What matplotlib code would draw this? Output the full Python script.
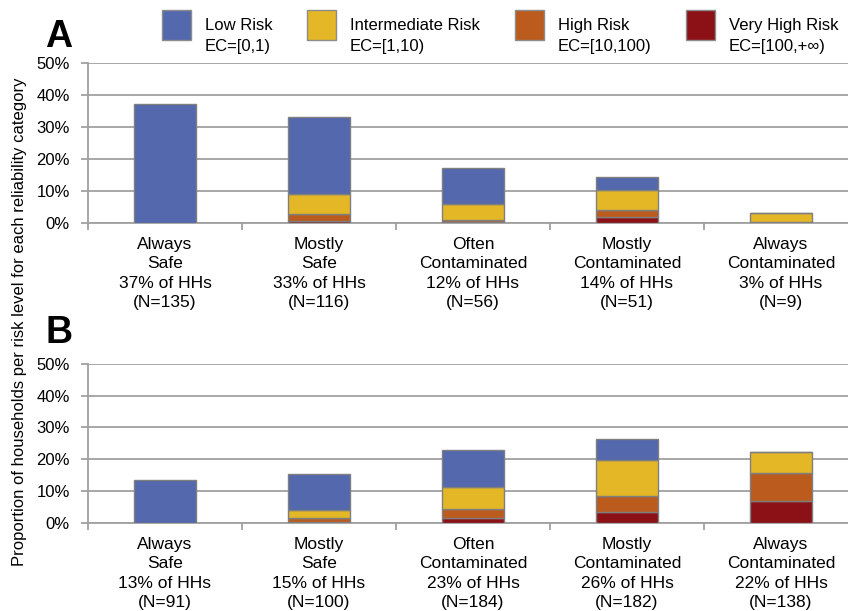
import numpy as np
import matplotlib
matplotlib.use("Agg")
import matplotlib.pyplot as plt
from matplotlib.patches import Rectangle

plt.rcParams['font.family'] = ['Liberation Sans', 'DejaVu Sans']

# data (percent of households)
labels_A = ["Always\nSafe\n37% of HHs\n(N=135)",
            "Mostly\nSafe\n33% of HHs\n(N=116)",
            "Often\nContaminated\n12% of HHs\n(N=56)",
            "Mostly\nContaminated\n14% of HHs\n(N=51)",
            "Always\nContaminated\n3% of HHs\n(N=9)"]
labels_B = ["Always\nSafe\n13% of HHs\n(N=91)",
            "Mostly\nSafe\n15% of HHs\n(N=100)",
            "Often\nContaminated\n23% of HHs\n(N=184)",
            "Mostly\nContaminated\n26% of HHs\n(N=182)",
            "Always\nContaminated\n22% of HHs\n(N=138)"]

veryhigh_A = [0.0, 0.6, 0.3, 1.9, 0.3]
high_A = [0.0, 2.0, 0.6, 2.0, 0.0]
inter_A = [0.0, 6.4, 5.0, 6.4, 2.7]
low_A = [37.3, 24.0, 11.3, 4.0, 0.0]

veryhigh_B = [0.0, 0.2, 1.6, 3.3, 6.9]
high_B = [0.0, 1.3, 2.7, 5.0, 8.7]
inter_B = [0.0, 2.4, 7.0, 11.5, 6.6]
low_B = [13.5, 11.4, 11.6, 6.6, 0.0]

risk_names = ["Low Risk\nEC=[0,1)", "Intermediate Risk\nEC=[1,10)",
              "High Risk\nEC=[10,100)", "Very High Risk\nEC=[100,+\u221e)"]
colors = ['#5468ad', '#e4b726', '#bb5c1e', '#8c1116']

W, H = 848, 611
fig = plt.figure(figsize=(W/100, H/100), dpi=100)

def panel(rect, low, inter, high, vhigh, labels):
    ax = fig.add_axes(rect)
    x = np.arange(len(labels))
    # stacked from the bottom: very high, high, intermediate, low
    segs = [vhigh, high, inter, low]
    cols = [colors[3], colors[2], colors[1], colors[0]]
    bottom = np.zeros(len(labels))
    for vals, c in zip(segs, cols):
        vals = np.array(vals)
        ax.bar(x, vals, 0.4, bottom=bottom, color=c, edgecolor='#7f7f7f',
               linewidth=1.0, zorder=3)
        bottom += vals
    ax.set_xlim(-0.5, len(labels) - 0.5)
    ax.set_ylim(0, 50)
    ax.set_yticks(np.arange(0, 51, 10))
    ax.set_yticklabels(["%d%%" % v for v in range(0, 51, 10)], fontsize=12)
    ax.yaxis.grid(True, color='#a0a0a0', linewidth=1.3, zorder=0)
    ax.set_axisbelow(True)
    # ticks on category boundaries, labels at centres
    ax.set_xticks(np.arange(-0.5, len(labels) + 0.5, 1))
    ax.set_xticklabels([])
    ax.set_xticks(x, minor=True)
    ax.set_xticklabels(labels, minor=True, fontsize=12.5, linespacing=1.38)
    ax.tick_params(axis='x', which='minor', length=0, pad=10)
    ax.tick_params(axis='x', which='major', length=5, color='#a0a0a0', width=1.3)
    ax.tick_params(axis='y', length=5, color='#a0a0a0', width=1.3, pad=8)
    for s in ['top', 'right']:
        ax.spines[s].set_visible(False)
    for s in ['left', 'bottom']:
        ax.spines[s].set_color('#a0a0a0')
        ax.spines[s].set_linewidth(1.3)
    return ax

left = 88 / W
width = 770 / W
axA = panel([left, 1 - 222.7/H, width, 159.4/H], low_A, inter_A, high_A, veryhigh_A, labels_A)
axB = panel([left, 1 - 522.7/H, width, 158.7/H], low_B, inter_B, high_B, veryhigh_B, labels_B)

fig.text(45/W, 1 - 47/H, "A", fontsize=27, fontweight='bold', ha='left', va='baseline')
fig.text(46/W, 1 - 343/H, "B", fontsize=27, fontweight='bold', ha='left', va='baseline')

fig.text(20/W, 1 - 322/H, "Proportion of households per risk level for each reliability category",
         rotation=90, fontsize=12, ha='center', va='center')

# legend drawn by hand
leg_x = [162, 307, 515, 686]
for lx, name, c in zip(leg_x, risk_names, colors):
    fig.add_artist(Rectangle((lx/W, 1 - 40/H), 29/W, 30/H, transform=fig.transFigure,
                             facecolor=c, edgecolor='#8c8c8c', linewidth=1.0))
    fig.text((lx + 43)/W, 1 - 36/H, name, fontsize=12, ha='left', va='center',
             linespacing=1.55)

fig.savefig("out.png", dpi=100)
